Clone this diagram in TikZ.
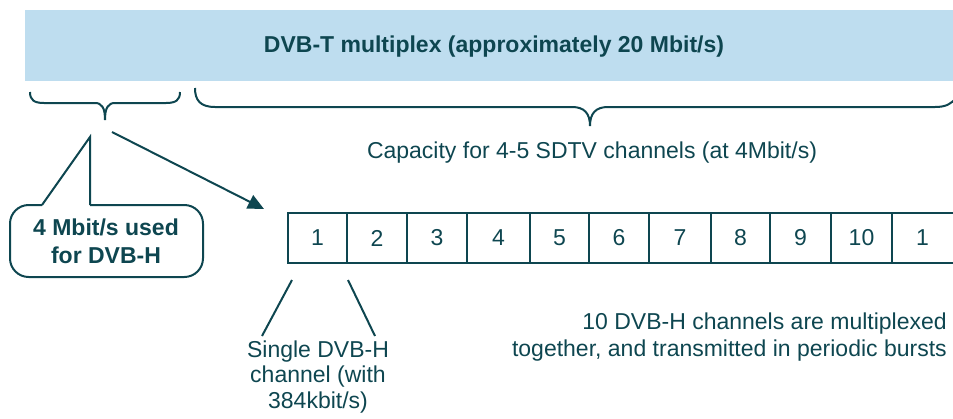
\documentclass[tikz,border=0pt]{standalone}
\usepackage{fontspec}
\setmainfont{Liberation Sans}
\usetikzlibrary{arrows.meta}
\definecolor{dvbink}{RGB}{14,70,80}
\definecolor{bandblue}{RGB}{190,221,239}
\begin{document}
\begin{tikzpicture}[x=0.75pt,y=-0.75pt,
  ink/.style={draw=dvbink, line width=1.5pt},
  lbl/.style={text=dvbink, inner sep=0pt, font=\fontsize{17.25}{19}\selectfont},
  boldlbl/.style={lbl, font=\fontsize{17.25}{21}\selectfont\bfseries},
  cellbox/.style={draw=dvbink, line width=1.8pt, minimum height=37.5pt, inner sep=0pt,
                  text=dvbink, font=\fontsize{17.25}{19}\selectfont}]
\useasboundingbox (0,0) rectangle (953,418);

% multiplex band
\fill[bandblue] (25,10) rectangle (953,81);
\node[boldlbl] (title) at (494,47) {DVB-T multiplex (approximately 20 Mbit/s)};

% braces under the band
\draw[ink] (30,92) .. controls (30,100) and (34,103) .. (44,103) -- (95,103)
  .. controls (102,103) and (105,108) .. (105,120)
  .. controls (105,108) and (108,103) .. (115,103) -- (166,103)
  .. controls (176,103) and (180,100) .. (180,92);
\draw[ink] (195,88) .. controls (195,100) and (200,107) .. (215,107) -- (572,107)
  .. controls (584,107) and (590,113) .. (590,126)
  .. controls (590,113) and (596,107) .. (608,107) -- (935,107)
  .. controls (946,107) and (951,104) .. (956,98);

\node[lbl] (capacity) at (592,153) {Capacity for 4-5 SDTV channels (at 4Mbit/s)};

% callout
\coordinate (ptip) at (90,137);
\node[boldlbl, align=center] (note) at (106,241) {4 Mbit/s used\\for DVB-H};
\draw[ink, rounded corners=14pt] (42,205) -- (10,205) -- (10,277) -- (203,277) -- (203,205) -- (90,205);
\draw[ink, line join=miter] (42,205) -- (ptip) -- (90,205);

% channel cells
\foreach \l/\r/\t/\n in {288/347/1/c1, 347/407/2/c2, 407/467/3/c3, 467/530/4/c4,
    530/589/5/c5, 589/649/6/c6, 649/711/7/c7, 711/770/8/c8, 770/831/9/c9, 831/892/10/c10}
  \node[cellbox, minimum width={(\r-\l)*0.75pt}] (\n) at ({(\l+\r)/2},238) {\t};
\node[cellbox, draw=none, outer sep=0pt, minimum width=45.75pt] (c11) at (922.5,238) {1};
\draw[dvbink, line width=1.8pt] (c11.north west) -- (c11.north east)
  (c11.south west) -- (c11.south east);

% arrow from the DVB-H share to the cells
\coordinate (asrc) at (112,132);
\coordinate (atgt) at (264,209);
\draw[ink, -{Triangle[length=12pt,width=11pt]}] (asrc) -- (atgt);

% single channel marker
\coordinate (s1a) at (292,280);
\coordinate (s1b) at (262,336);
\coordinate (s2a) at (348,280);
\coordinate (s2b) at (375,336);
\draw[ink] (s1a) -- (s1b);
\draw[ink] (s2a) -- (s2b);
\node[lbl, align=center] (single) at (318,377) {Single DVB-H\\channel (with\\384kbit/s)};

\node[lbl, align=right, anchor=east, font=\fontsize{17.25}{20}\selectfont] (bursts) at (947,337)
  {10 DVB-H channels are multiplexed\\together, and transmitted in periodic bursts};
\end{tikzpicture}
\end{document}
